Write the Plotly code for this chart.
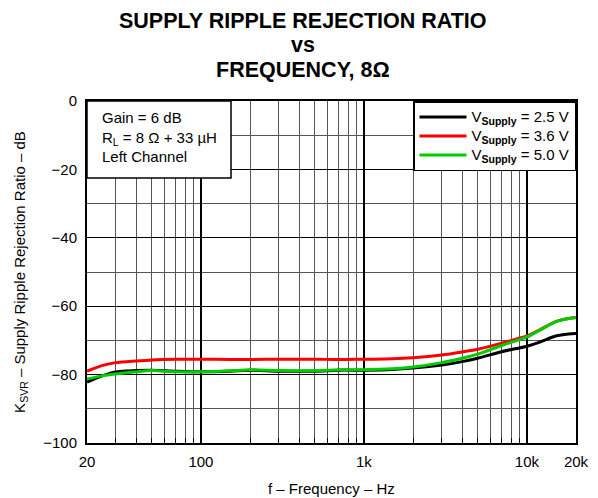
import plotly.graph_objects as go

freq = [20, 25, 30, 40, 50, 70, 100, 150, 200, 300, 500, 700, 1000, 1500, 2000,
        3000, 4000, 5000, 7000, 10000, 12000, 15000, 18000, 20000]
v25 = [-82.2, -80.3, -79.2, -78.8, -78.7, -79.0, -79.2, -79.0, -78.7, -79.0, -79.0, -78.7,
       -78.7, -78.5, -78.1, -77.2, -76.2, -75.2, -73.3, -71.7, -70.5, -68.7, -68.1, -68.0]
v36 = [-79.0, -77.3, -76.5, -76.0, -75.7, -75.5, -75.5, -75.6, -75.6, -75.5, -75.5, -75.6,
       -75.5, -75.4, -75.1, -74.3, -73.4, -72.6, -70.8, -68.7, -66.9, -64.5, -63.6, -63.3]
v50 = [-81.3, -80.3, -79.8, -79.2, -78.8, -79.2, -79.2, -78.9, -78.6, -78.8, -78.9, -78.6,
       -78.6, -78.3, -77.8, -76.5, -75.2, -74.0, -71.5, -69.0, -67.0, -64.6, -63.6, -63.4]
series_labels = ["2.5 V", "3.6 V", "5.0 V"]
series_colors = ["#000000", "#ff0000", "#00cc00"]

x_major = [20, 100, 1000, 10000, 20000]
x_major_text = ["20", "100", "1k", "10k", "20k"]
x_minor = [30, 40, 50, 60, 70, 80, 90, 200, 300, 400, 500, 600, 700, 800, 900,
           2000, 3000, 4000, 5000, 6000, 7000, 8000, 9000]
y_ticks = [0, -20, -40, -60, -80, -100]
y_ticktext = ["0", "\u221220", "\u221240", "\u221260", "\u221280", "\u2212100"]

title_lines = ["SUPPLY RIPPLE REJECTION RATIO", "vs", "FREQUENCY, 8\u03a9"]
title_y = [1.2348, 1.1637, 1.0921]

font = "Liberation Sans, Arial, sans-serif"

fig = go.Figure()
for vals, lab, col in zip([v25, v36, v50], series_labels, series_colors):
    name = ('<span style="font-size:15px">V<sub><b>Supply</b></sub> = ' + lab + '</span>')
    fig.add_trace(go.Scatter(x=freq, y=vals, mode="lines", name=name,
                             line=dict(color=col, width=3, shape="spline", smoothing=0.8)))

fig.update_layout(
    width=590, height=490,
    margin=dict(l=79, r=22, t=93, b=55, autoexpand=False),
    paper_bgcolor="white", plot_bgcolor="white",
    font=dict(family=font, size=15, color="black"),
    showlegend=True,
    legend=dict(x=1, xanchor="right", y=1, yanchor="top",
                bgcolor="white", bordercolor="black", borderwidth=1.5,
                font=dict(family=font, size=12.3), itemwidth=47,
                tracegroupgap=0),
)

fig.update_xaxes(
    type="log", range=[1.30103, 4.30103], automargin=False,
    tickmode="array", tickvals=x_major, ticktext=x_major_text,
    showgrid=True, gridcolor="#000000", gridwidth=1.5,
    minor=dict(tickmode="array", tickvals=x_minor, showgrid=True,
               gridcolor="#555555", gridwidth=1, ticks="inside", ticklen=5,
               tickcolor="black"),
    ticks="inside", ticklen=6, tickcolor="black", ticklabelstandoff=4,
    showline=True, linecolor="black", linewidth=2, mirror=True,
    zeroline=False,
    tickfont=dict(size=15),
)
fig.update_yaxes(
    range=[-100, 0], tickmode="array", tickvals=y_ticks, ticktext=y_ticktext,
    automargin=False,
    showgrid=True, gridcolor="#000000", gridwidth=1,
    minor=dict(dtick=10, showgrid=True, gridcolor="#555555", gridwidth=1),
    showline=True, linecolor="black", linewidth=2, mirror=True,
    zeroline=False, ticks="", ticklabelstandoff=5,
    title=dict(text="K<sub>SVR</sub> \u2013 Supply Ripple Rejection Ratio \u2013 dB",
               font=dict(size=15), standoff=14),
    tickfont=dict(size=15),
)

for txt, ty in zip(title_lines, title_y):
    fig.add_annotation(xref="paper", yref="paper", x=0.4417, y=ty,
                       xanchor="center", yanchor="middle", text="<b>" + txt + "</b>",
                       showarrow=False, font=dict(family=font, size=21.5, color="black"))

# x-axis title
fig.add_annotation(xref="paper", yref="paper", x=0.5, y=-0.1345,
                   xanchor="center", yanchor="middle",
                   text="f \u2013 Frequency \u2013 Hz", showarrow=False,
                   font=dict(family=font, size=15, color="black"))

# info box
fig.add_shape(type="rect", xref="paper", yref="paper", x0=0, x1=0.2945, y0=0.7749, y1=1,
              line=dict(color="black", width=1.5), fillcolor="white", layer="above")
fig.add_annotation(
    xref="paper", yref="paper", x=0.0286, y=0.8933, xanchor="left", yanchor="middle",
    text="Gain = 6 dB<br>R<sub>L</sub> = 8 \u03a9 + 33 \u00b5H<br>Left Channel",
    align="left", showarrow=False, borderpad=0,
    font=dict(family=font, size=15, color="black"),
)

fig.write_html("out.html")
